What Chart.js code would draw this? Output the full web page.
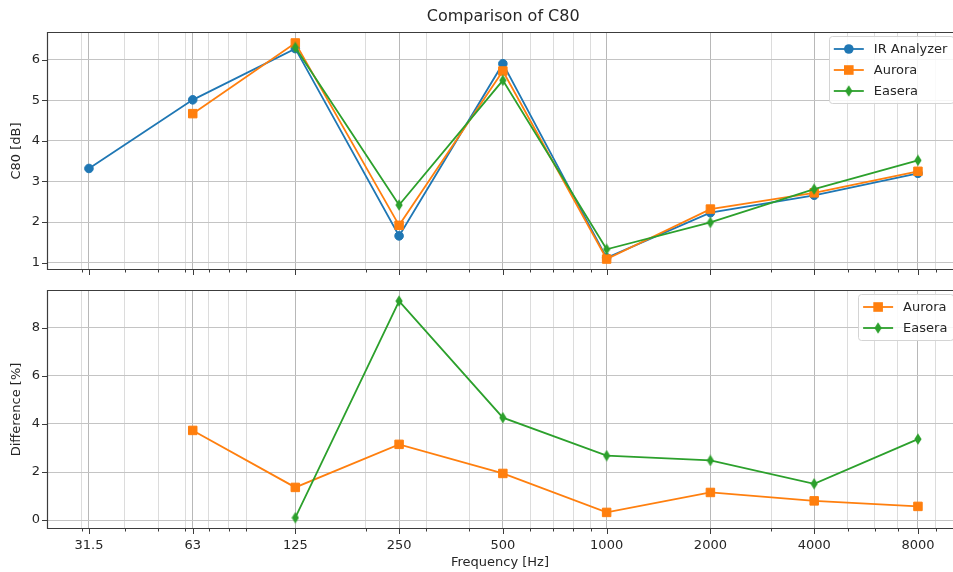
<!DOCTYPE html>
<html>
<head>
<meta charset="utf-8">
<script src="https://cdn.jsdelivr.net/npm/chart.js@4.4.1/dist/chart.umd.min.js"></script>
<style>
  body { margin: 0; background: #fff; overflow: hidden; }
  #wrap { position: relative; width: 953px; height: 572px; overflow: hidden; background: #fff; }
  canvas { position: absolute; left: 0; }
  #top { top: 0; }
  #bottom { top: 280px; }
</style>
</head>
<body>
<div id="wrap">
  <canvas id="top" width="953" height="280"></canvas>
  <canvas id="bottom" width="953" height="292"></canvas>
</div>
<script>
// octave band centres and their labels
const freqs = [31.5, 63, 125, 250, 500, 1000, 2000, 4000, 8000];
const freqLabels = ['31.5', '63', '125', '250', '500', '1000', '2000', '4000', '8000'];
// minor log grid lines
const minorFreqs = [30, 40, 50, 60, 70, 80, 90, 200, 300, 400, 600, 700, 800, 900, 3000, 5000, 6000, 7000, 9000];

// C80 [dB]
const irC80     = [3.32, 5.01, 6.27, 1.66, 5.90, 1.12, 2.23, 2.66, 3.20];
const auroraC80 = [null, 4.67, 6.41, 1.92, 5.72, 1.09, 2.32, 2.72, 3.25];
const easeraC80 = [null, null, 6.30, 2.42, 5.49, 1.33, 1.99, 2.81, 3.52];

// difference [%]
const auroraDiff = [null, 3.73, 1.36, 3.15, 1.94, 0.32, 1.15, 0.80, 0.57];
const easeraDiff = [null, null, 0.10, 9.11, 4.26, 2.68, 2.48, 1.51, 3.37];

const c80Ticks = [1, 2, 3, 4, 5, 6];
const diffTicks = [0, 2, 4, 6, 8];

const BLUE = '#1f77b4', ORANGE = '#ff7f0e', GREEN = '#2ca02c';
const FONT = "'DejaVu Sans', sans-serif";
const TEXT = '#262626';
// visible part of the log axis (the real axis ends a little past the picture)
const xMin = 23.8, xMax = 10110, axisEnd = 10550;

function thinDiamond(color) {
    const c = document.createElement('canvas');
    c.width = 8; c.height = 12;
    const g = c.getContext('2d');
    g.fillStyle = color;
    g.beginPath();
    g.moveTo(4, 0.3); g.lineTo(7.6, 6); g.lineTo(4, 11.7); g.lineTo(0.4, 6);
    g.closePath();
    g.fill();
    return c;
}
const diamondImg = thinDiamond(GREEN);

function points(values) {
    return freqs.map((f, i) => ({x: f, y: values[i]})).filter(p => p.y !== null);
}

function series(label, values, color, style, order) {
    return {
        label: label,
        data: points(values),
        borderColor: color,
        backgroundColor: color,
        borderWidth: 1.8,
        pointStyle: style,
        pointRadius: style === 'rect' ? 6 : 4.3,
        pointBorderWidth: 1,
        pointBorderColor: color,
        pointBackgroundColor: color,
        tension: 0,
        order: order
    };
}

function noPadding(s) {
    s.paddingTop = 0; s.paddingBottom = 0;
    s.paddingLeft = 0; s.paddingRight = 0;
}

function xAxis(showLabels) {
    return {
        type: 'logarithmic',
        min: xMin,
        max: xMax,
        afterBuildTicks: s => {
            s.ticks = freqs.map(v => ({value: v, major: true}))
                .concat(minorFreqs.map(v => ({value: v, major: false})))
                .sort((a, b) => a.value - b.value);
        },
        afterFit: s => { s.height = showLabels ? 43 : 10; noPadding(s); },
        ticks: {
            display: showLabels,
            autoSkip: false, maxRotation: 0, minRotation: 0,
            padding: 9,
            color: TEXT,
            font: {family: FONT, size: 13},
            callback: v => {
                const i = freqs.indexOf(v);
                return i >= 0 ? freqLabels[i] : '';
            }
        },
        grid: {
            drawTicks: false,
            color: c => (c.tick && c.tick.major) ? '#b8b8b8' : '#dcdcdc',
            lineWidth: 1
        },
        border: {display: false},
        title: {
            display: showLabels,
            text: 'Frequency [Hz]',
            color: TEXT,
            font: {family: FONT, size: 13},
            padding: {top: 0, bottom: 2}
        }
    };
}

function yAxis(title, min, max, tickVals) {
    return {
        min: min,
        max: max,
        afterBuildTicks: s => { s.ticks = tickVals.map(v => ({value: v})); },
        afterFit: s => { s.width = 47; noPadding(s); },
        ticks: {padding: 7, color: TEXT, font: {family: FONT, size: 13}},
        grid: {drawTicks: false, color: '#c4c4c4', lineWidth: 1},
        border: {display: false},
        title: {
            display: true,
            text: title,
            color: TEXT,
            font: {family: FONT, size: 13},
            padding: {top: 9, bottom: 0}
        }
    };
}

function drawMarker(ctx, ds, x, y) {
    ctx.fillStyle = ds.borderColor;
    if (ds.pointStyle === 'circle') {
        ctx.beginPath();
        ctx.arc(x, y, 4.8, 0, Math.PI * 2);
        ctx.fill();
    } else if (ds.pointStyle === 'rect') {
        ctx.fillRect(x - 4.8, y - 4.8, 9.6, 9.6);
    } else {
        ctx.drawImage(ds.pointStyle, x - 4, y - 6);
    }
}

function drawLegend(chart, right) {
    const ctx = chart.ctx, a = chart.chartArea;
    const items = chart.data.datasets;
    ctx.font = '13px ' + FONT;
    const textW = Math.max(...items.map(d => ctx.measureText(d.label).width));
    const rowH = 21;
    const w = 5 + 30 + 10 + textW + 6;
    const h = 13 + rowH * (items.length - 1) + 12;
    const top = a.top + 4;
    const left = right - 6 - w;
    ctx.fillStyle = 'rgba(255,255,255,0.85)';
    ctx.strokeStyle = '#d4d4d4';
    ctx.lineWidth = 1;
    ctx.beginPath();
    ctx.roundRect(Math.round(left) + 0.5, top + 0.5, w, h, 3);
    ctx.fill();
    ctx.stroke();
    items.forEach((ds, i) => {
        const cy = top + 13 + i * rowH;
        ctx.strokeStyle = ds.borderColor;
        ctx.lineWidth = 1.8;
        ctx.beginPath();
        ctx.moveTo(left + 5, cy);
        ctx.lineTo(left + 35, cy);
        ctx.stroke();
        drawMarker(ctx, ds, left + 20, cy);
        ctx.fillStyle = TEXT;
        ctx.textAlign = 'left';
        ctx.textBaseline = 'middle';
        ctx.fillText(ds.label, left + 45, cy + 1);
    });
}

const framePlugin = {
    id: 'frame',
    afterDraw(chart, args, opts) {
        const ctx = chart.ctx, a = chart.chartArea;
        const xs = chart.scales.x, ys = chart.scales.y;
        const right = xs.getPixelForValue(axisEnd);
        ctx.save();
        ctx.strokeStyle = '#3c3c3c';
        ctx.lineWidth = 1;
        ctx.beginPath();
        xs.ticks.forEach(t => {
            const px = Math.round(xs.getPixelForValue(t.value)) + 0.5;
            ctx.moveTo(px, a.bottom);
            ctx.lineTo(px, a.bottom + (t.major ? 5 : 2.5));
        });
        ys.ticks.forEach(t => {
            const py = Math.round(ys.getPixelForValue(t.value)) + 0.5;
            ctx.moveTo(a.left - 5, py);
            ctx.lineTo(a.left, py);
        });
        ctx.stroke();
        ctx.lineWidth = 1.2;
        const l = Math.round(a.left) + 0.5, t = Math.round(a.top) + 0.5, b = Math.round(a.bottom) - 0.5;
        ctx.beginPath();
        ctx.moveTo(right, t); ctx.lineTo(l, t); ctx.lineTo(l, b); ctx.lineTo(right, b); ctx.lineTo(right, t);
        ctx.stroke();
        drawLegend(chart, right);
        if (opts.title) {
            ctx.fillStyle = TEXT;
            ctx.font = '16px ' + FONT;
            ctx.textAlign = 'center';
            ctx.textBaseline = 'middle';
            ctx.fillText(opts.title, (a.left + right) / 2, 17);
        }
        ctx.restore();
    }
};

Chart.register(framePlugin);

new Chart(document.getElementById('top'), {
    type: 'line',
    data: {
        datasets: [
            series('IR Analyzer', irC80, BLUE, 'circle', 2),
            series('Aurora', auroraC80, ORANGE, 'rect', 1),
            series('Easera', easeraC80, GREEN, diamondImg, 0)
        ]
    },
    options: {
        responsive: false,
        animation: false,
        events: [],
        layout: {autoPadding: false, padding: {top: 32, left: 0, right: 0, bottom: 0}},
        scales: {
            x: xAxis(false),
            y: yAxis('C80 [dB]', 0.82, 6.68, c80Ticks)
        },
        plugins: {
            legend: {display: false},
            tooltip: {enabled: false},
            frame: {title: 'Comparison of C80'}
        }
    }
});

new Chart(document.getElementById('bottom'), {
    type: 'line',
    data: {
        datasets: [
            series('Aurora', auroraDiff, ORANGE, 'rect', 1),
            series('Easera', easeraDiff, GREEN, diamondImg, 0)
        ]
    },
    options: {
        responsive: false,
        animation: false,
        events: [],
        layout: {autoPadding: false, padding: {top: 10, left: 0, right: 0, bottom: 0}},
        scales: {
            x: xAxis(true),
            y: yAxis('Difference [%]', -0.37, 9.57, diffTicks)
        },
        plugins: {
            legend: {display: false},
            tooltip: {enabled: false},
            frame: {}
        }
    }
});
</script>
</body>
</html>
